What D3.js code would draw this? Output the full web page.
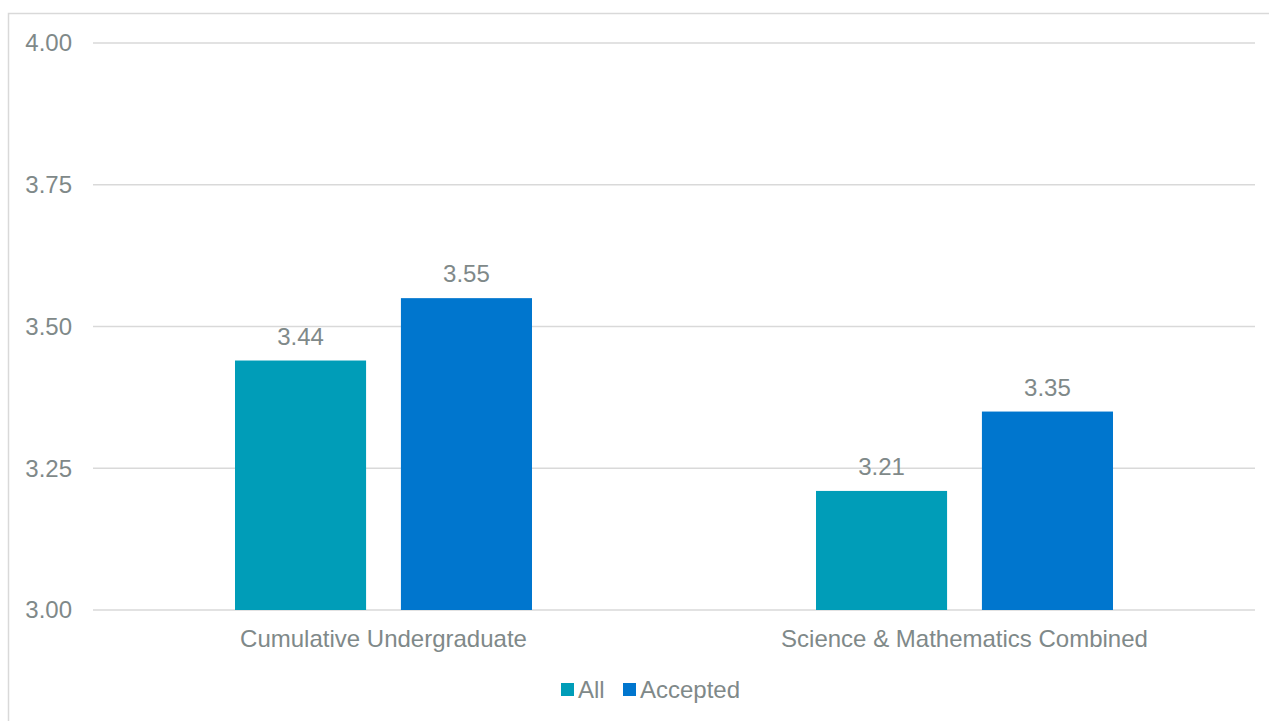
<!DOCTYPE html>
<html>
<head>
<meta charset="utf-8">
<script src="https://cdn.jsdelivr.net/npm/d3@7"></script>
<style>
  body { margin: 0; background: #fff; }
  text { font-family: "Liberation Sans", Arial, sans-serif; fill: #7f8989; }
</style>
</head>
<body>
<div id="chart"></div>
<script>
// chart data
let categories = ["Cumulative Undergraduate", "Science & Mathematics Combined"];
let seriesNames = ["All", "Accepted"];
let allValues = [3.44, 3.21];
let acceptedValues = [3.55, 3.35];
let yTicks = [3.00, 3.25, 3.50, 3.75, 4.00];

let colors = { "All": "#009db8", "Accepted": "#0076ce" };

let width = 1269,
  height = 721;

let svg = d3.select("#chart")
  .append("svg")
  .attr("width", width)
  .attr("height", height);

// outer chart border
svg.append("rect")
  .attr("x", 8.5)
  .attr("y", 13.5)
  .attr("width", 1270)
  .attr("height", 720)
  .attr("fill", "none")
  .attr("stroke", "#d9d9d9")
  .attr("stroke-width", 1.5);

let plot = { left: 93, right: 1255, top: 43, bottom: 610 };

let x0 = d3.scaleBand()
  .domain(categories)
  .range([plot.left, plot.right]);

let x1 = d3.scaleBand()
  .domain(seriesNames)
  .range([142, x0.bandwidth() - 142])
  .paddingInner(0.21);

let y = d3.scaleLinear()
  .domain([3, 4])
  .range([plot.bottom, plot.top]);

// gridlines
svg.selectAll(".grid")
  .data(yTicks)
  .enter().append("line")
  .attr("class", "grid")
  .attr("x1", plot.left)
  .attr("x2", plot.right)
  .attr("y1", function(d) { return y(d); })
  .attr("y2", function(d) { return y(d); })
  .attr("stroke", "#d9d9d9")
  .attr("stroke-width", 1.3);

// y axis labels
svg.selectAll(".ylab")
  .data(yTicks)
  .enter().append("text")
  .attr("class", "ylab")
  .attr("x", 72)
  .attr("y", function(d) { return y(d); })
  .attr("dy", "0.35em")
  .attr("text-anchor", "end")
  .style("font-size", "24px")
  .text(function(d) { return d3.format(".2f")(d); });

let rows = categories.map(function(c, i) {
  return { cat: c, values: [
    { name: "All", value: allValues[i] },
    { name: "Accepted", value: acceptedValues[i] }
  ] };
});

let groups = svg.selectAll(".group")
  .data(rows)
  .enter().append("g")
  .attr("class", "group")
  .attr("transform", function(d) { return "translate(" + x0(d.cat) + ",0)"; });

groups.selectAll("rect")
  .data(function(d) { return d.values; })
  .enter().append("rect")
  .attr("x", function(d) { return x1(d.name); })
  .attr("width", x1.bandwidth())
  .attr("y", function(d) { return y(d.value); })
  .attr("height", function(d) { return y(3) - y(d.value); })
  .attr("fill", function(d) { return colors[d.name]; });

groups.selectAll(".val")
  .data(function(d) { return d.values; })
  .enter().append("text")
  .attr("class", "val")
  .attr("x", function(d) { return x1(d.name) + x1.bandwidth() / 2; })
  .attr("y", function(d) { return y(d.value) - 16; })
  .attr("text-anchor", "middle")
  .style("font-size", "24px")
  .text(function(d) { return d3.format(".2f")(d.value); });

// category labels
svg.selectAll(".cat")
  .data(categories)
  .enter().append("text")
  .attr("class", "cat")
  .attr("x", function(d) { return x0(d) + x0.bandwidth() / 2; })
  .attr("y", 647)
  .attr("text-anchor", "middle")
  .style("font-size", "24px")
  .text(function(d) { return d; });

// legend
let legendX = { "All": 561, "Accepted": 623 };
let legend = svg.selectAll(".legend")
  .data(seriesNames)
  .enter().append("g")
  .attr("class", "legend")
  .attr("transform", function(d) { return "translate(" + legendX[d] + ",683)"; });

legend.append("rect")
  .attr("width", 13)
  .attr("height", 13)
  .attr("fill", function(d) { return colors[d]; });

legend.append("text")
  .attr("x", 17)
  .attr("y", 15)
  .style("font-size", "24px")
  .text(function(d) { return d; });
</script>
</body>
</html>
